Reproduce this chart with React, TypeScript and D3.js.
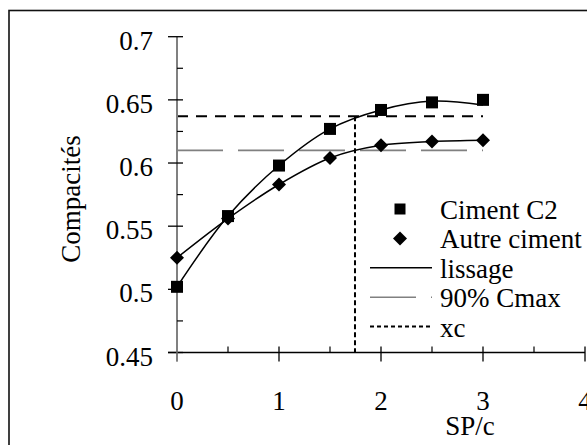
import React from 'react';
import * as d3 from 'd3';

// Values
const dosages = [0, 0.5, 1, 1.5, 2, 2.5, 3];
const cimentC2 = [0.502, 0.558, 0.598, 0.627, 0.642, 0.648, 0.65];
const autreCiment = [0.525, 0.556, 0.583, 0.604, 0.614, 0.617, 0.618];
const lissageC2 = [0.502, 0.558, 0.598, 0.627, 0.642, 0.649, 0.646];
const lissageAutre = [0.525, 0.556, 0.583, 0.604, 0.614, 0.617, 0.618];
const cmax90 = 0.61;
const seuilC2 = 0.637;
const xc = 1.745;
const xTicks = [0, 1, 2, 3, 4];
const yTicks = [0.45, 0.5, 0.55, 0.6, 0.65, 0.7];
const legendLabels = ['Ciment C2', 'Autre ciment', 'lissage', '90% Cmax', 'xc'];

const W = 587;
const H = 445;
const txt = { fontFamily: '"Times New Roman", "Liberation Serif", Times, "DejaVu Serif", serif', fontSize: 27 };

const App = () => {
    const x = d3.scaleLinear().domain([0, 4]).range([177, 585]);
    const y = d3.scaleLinear().domain([0.45, 0.7]).range([352.5, 36.7]);

    const line = d3.line<number>()
        .x((_, i) => x(dosages[i]))
        .y(d => y(d))
        .curve(d3.curveCatmullRom.alpha(0.5));

    const minorX = d3.range(0.5, 4, 1);
    const minorY = d3.range(0.475, 0.7, 0.05);

    const square = (cx: number, cy: number, s = 12) => (
        <rect x={cx - s / 2} y={cy - s / 2} width={s} height={s} fill="#000" />
    );
    const diamond = (cx: number, cy: number, r = 7) => (
        <path d={`M${cx},${cy - r}L${cx + r},${cy}L${cx},${cy + r}L${cx - r},${cy}Z`} fill="#000" />
    );

    const legendY = (i: number) => 209 + i * 29.4;

    return (
        <svg width={W} height={H} style={{ position: 'absolute', left: 0, top: 0, background: '#fff' }}>
            {/* frame */}
            <rect x={9} y={10.5} width={620} height={460} fill="none" stroke="#111" strokeWidth={1.6} />

            {/* reference lines */}
            <line x1={x(0)} x2={x(3)} y1={y(cmax90)} y2={y(cmax90)} stroke="#808080" strokeWidth={1.6} strokeDasharray="46,15" />
            <line x1={x(0)} x2={x(3)} y1={y(seuilC2)} y2={y(seuilC2)} stroke="#000" strokeWidth={2} strokeDasharray="11,8" />
            <line x1={x(xc)} x2={x(xc)} y1={y(seuilC2)} y2={y(0.45)} stroke="#000" strokeWidth={2} strokeDasharray="5,3" />

            {/* axes */}
            <line x1={x(0)} x2={x(0)} y1={y(0.7)} y2={y(0.45) + 9} stroke="#808080" strokeWidth={2} />
            <line x1={168} x2={x(4)} y1={y(0.45)} y2={y(0.45)} stroke="#000" strokeWidth={1.5} />
            {yTicks.map(t => (
                <g key={'y' + t}>
                    <line x1={168} x2={183} y1={y(t)} y2={y(t)} stroke="#000" strokeWidth={1.3} />
                    <text x={153} y={y(t) + 13} textAnchor="end" style={txt}>{t}</text>
                </g>
            ))}
            {minorY.map(t => (
                <line key={'my' + t} x1={x(0)} x2={183} y1={y(t)} y2={y(t)} stroke="#000" strokeWidth={1.2} />
            ))}
            {xTicks.map(t => (
                <g key={'x' + t}>
                    <line x1={x(t)} x2={x(t)} y1={y(0.45) - 6} y2={y(0.45) + 9} stroke={t === 0 ? '#808080' : '#000'} strokeWidth={1.3} />
                    <text x={x(t)} y={410} textAnchor="middle" style={txt}>{t}</text>
                </g>
            ))}
            {minorX.map(t => (
                <line key={'mx' + t} x1={x(t)} x2={x(t)} y1={y(0.45) - 6} y2={y(0.45)} stroke="#000" strokeWidth={1.2} />
            ))}

            {/* axis titles */}
            <text transform={`translate(80,199) rotate(-90)`} textAnchor="middle" style={txt}>Compacités</text>
            <text x={470} y={435} textAnchor="middle" style={txt}>SP/c</text>

            {/* smoothing curves */}
            <path d={line(lissageC2) || ''} fill="none" stroke="#000" strokeWidth={1.5} />
            <path d={line(lissageAutre) || ''} fill="none" stroke="#000" strokeWidth={1.5} />

            {/* markers */}
            {cimentC2.map((v, i) => <g key={'s' + i}>{square(x(dosages[i]), y(v))}</g>)}
            {autreCiment.map((v, i) => <g key={'d' + i}>{diamond(x(dosages[i]), y(v))}</g>)}

            {/* legend */}
            <g>
                {square(400, legendY(0), 11)}
                {diamond(400, legendY(1), 7)}
                <line x1={370} x2={432} y1={legendY(2)} y2={legendY(2)} stroke="#000" strokeWidth={1.5} />
                <line x1={370} x2={432} y1={legendY(3)} y2={legendY(3)} stroke="#808080" strokeWidth={1.6} strokeDasharray="46,15" />
                <line x1={370} x2={432} y1={legendY(4)} y2={legendY(4)} stroke="#000" strokeWidth={2} strokeDasharray="4,3" />
                {legendLabels.map((l, i) => (
                    <text key={l} x={440} y={legendY(i) + 10} style={txt}>{l}</text>
                ))}
            </g>
        </svg>
    );
};

export default App;
